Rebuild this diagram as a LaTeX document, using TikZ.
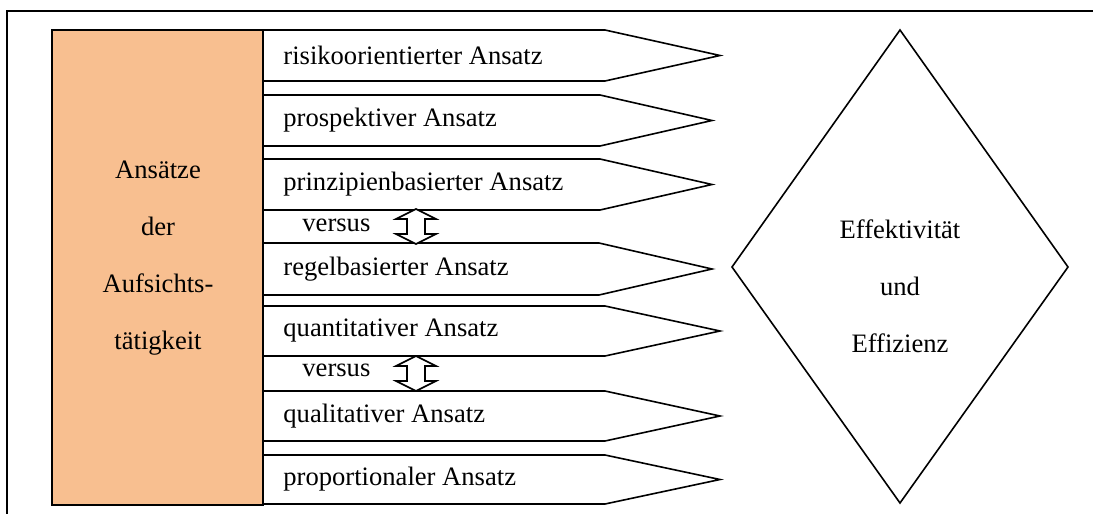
\documentclass[tikz,border=0pt]{standalone}
\usepackage{fontspec}
\setmainfont{Liberation Serif}
\usetikzlibrary{shapes.geometric}
\definecolor{boxorange}{HTML}{F8BF90}
\tikzset{
  line/.style={draw=black, line width=0.8pt, line join=miter},
  approach/.style={line, fill=white},
  lbl/.style={font=\fontsize{13.3}{16}\selectfont, inner sep=0pt, anchor=west},
  stack/.style={font=\fontsize{13.3}{28.5}\selectfont, align=center, inner sep=0pt},
  swap/.style={line, fill=white},
}
\begin{document}
\begin{tikzpicture}[x=0.5pt, y=-0.5pt]
  \useasboundingbox (0,0) rectangle (1093,514);
  % frame
  \draw[line] (7,514) -- (7,11) -- (1093,11);

  % approach arrows: top/bottom/body end/tip/label
  \foreach \t/\b/\e/\p/\name/\txt in {
      30/81/605/720/r1/risikoorientierter Ansatz,
      95/146/600/712/r2/prospektiver Ansatz,
      159/210/600/712/r3/prinzipienbasierter Ansatz,
      243/295/599/712/r4/regelbasierter Ansatz,
      306/356/605/720/r5/quantitativer Ansatz,
      391/441/605/720/r6/qualitativer Ansatz,
      455/504/605/720/r7/proportionaler Ansatz}{
    \pgfmathsetmacro{\m}{(\t+\b)/2}
    \draw[approach] (263,\t) -- (\e,\t) -- (\p,\m) -- (\e,\b) -- (263,\b);
    \node[lbl] (\name) at (283,\m) {\txt};
  }

  % left box
  \draw[line, fill=boxorange] (52,30) rectangle (263,505);
  \node[stack] (head) at (158,258) {Ansätze\\der\\Aufsichts-\\tätigkeit};

  % versus labels and double arrows
  \node[lbl] (vs1) at (302,225) {versus};
  \node[lbl] (vs2) at (302,370) {versus};
  \foreach \y/\n in {209/da1, 356/da2}{
    \coordinate (\n) at (416,\y);
    \draw[swap] (\n) -- ++(20,10) -- ++(-11,0) -- ++(0,15) -- ++(11,0)
      -- ++(-20,10) -- ++(-20,-10) -- ++(11,0) -- ++(0,-15) -- ++(-11,0) -- cycle;
  }

  % goal diamond
  \coordinate (dt) at (900,30);
  \coordinate (dr) at (1068,267);
  \coordinate (db) at (900,503);
  \coordinate (dl) at (732,267);
  \draw[line] (dt) -- (dr) -- (db) -- (dl) -- cycle;
  \node[stack] (goal) at (900,286) {Effektivität\\und\\Effizienz};
\end{tikzpicture}
\end{document}
